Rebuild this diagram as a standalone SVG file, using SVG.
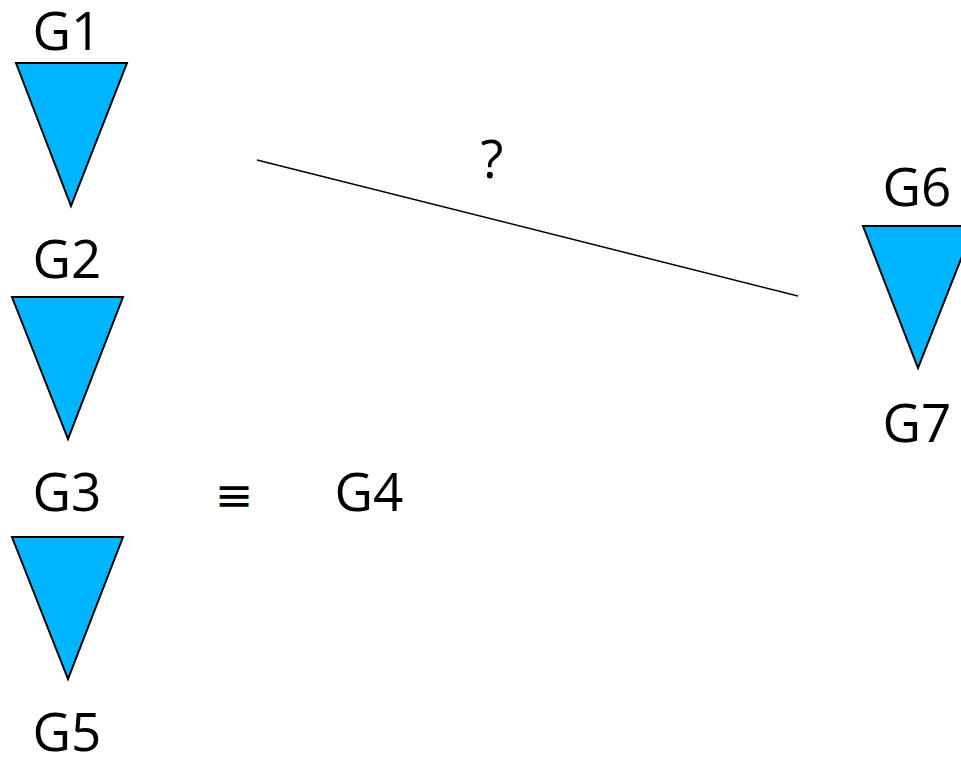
<svg xmlns="http://www.w3.org/2000/svg" width="961" height="757" viewBox="0 0 961 757">
<style>
.tri{fill:#00B5FF;stroke:#000;stroke-width:2;stroke-linejoin:miter}
.lbl{font-family:"Open Sans","Noto Sans",sans-serif;font-size:53px;fill:#000;text-anchor:middle}
.sym{font-family:"DejaVu Sans",sans-serif;font-size:46px;fill:#000;text-anchor:middle}
.edge{stroke:#000;stroke-width:1.5;fill:none}
</style>
<rect width="961" height="757" fill="#fff"/>
<g id="G1"><text class="lbl" x="67" y="50">G1</text><polygon class="tri" points="16,63 127,63 71,206"/></g>
<g id="G2"><text class="lbl" x="67" y="278">G2</text><polygon class="tri" points="12,297 123,297 68,439"/></g>
<g id="G3"><text class="lbl" x="67" y="511">G3</text><polygon class="tri" points="12,537 123,537 68,679"/></g>
<g id="G5"><text class="lbl" x="67" y="751">G5</text></g>
<g id="G4"><text class="lbl" x="369" y="511">G4</text></g>
<g id="equiv"><text class="sym" x="234" y="511">≡</text></g>
<g id="G6"><text class="lbl" x="917" y="206">G6</text><polygon class="tri" points="863,226 974,226 918,368"/></g>
<g id="G7"><text class="lbl" x="917" y="442">G7</text></g>
<g id="connectors"><line class="edge" x1="257" y1="160" x2="798" y2="296"/><text class="lbl" x="492" y="178">?</text></g>
</svg>
